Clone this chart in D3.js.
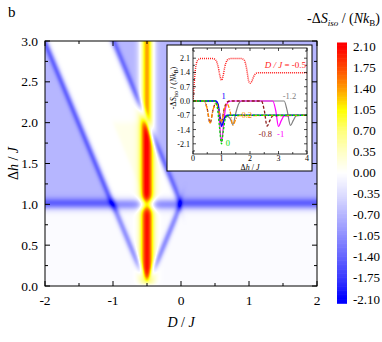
<!DOCTYPE html>
<html><head><meta charset="utf-8">
<script src="https://cdn.jsdelivr.net/npm/d3@7"></script>
<style>
body{margin:0;background:#fff}
svg{display:block}
text{font-family:"Liberation Serif","Times New Roman",serif;fill:#000}
</style>
</head><body>
<svg id="c" width="382" height="342"></svg>
<script>
// ---------------- data ----------------
const xTicks = [-2, -1, 0, 1, 2];
const yTicks = [0, 0.5, 1, 1.5, 2, 2.5, 3];
const yTickLabels = ["0.0","0.5","1.0","1.5","2.0","2.5","3.0"];
const cbValues = [2.10, 1.75, 1.40, 1.05, 0.70, 0.35, 0.00, -0.35, -0.70, -1.05, -1.40, -1.75, -2.10];
const cbLabels = ["2.10","1.75","1.40","1.05","0.70","0.35","0.00","-0.35","-0.70","-1.05","-1.40","-1.75","-2.10"];
const cbColors = ["#ff0000","#ff4800","#ff9c00","#ffff00","#ffff7a","#ffffc4","#ffffff","#dedeff","#b6b6ff","#8e8eff","#6464ff","#3a3aff","#0000ff"];

// heat-map structure (D/J, Δh/J)
const ridgeH   = [0, 0.04, 0.08, 0.12, 0.16, 0.22, 3.0];
const ridgeAmp = [0, 0.9, 1.5, 1.85, 2.0, 2.08, 2.08];
const ridgeD = -0.5, ridgeSigma = 0.07;
const zoneValues = [-0.04, -0.70, -0.70, 0.13];
const zonePolys = [
  [[-3,-1],[3,-1],[3,1],[-3,1]],
  [[-3,1],[-1,1],[-3,5]],
  [[0,1],[3,1],[3,5],[-2,5]],
  [[-1,2],[-0.5,1],[-0.5,2]]
];
const lineStart = [[-0.5,0],[-0.5,0],[0,1],[-3,1]];
const lineEnd   = [[-2.5,4],[0,1],[-1.5,4],[3,1]];
const lineDepth = [-0.95, -1.0, -0.87, -1.0];
const lineSigma = [0.075, 0.075, 0.075, 0.05];

// inset curves [Δh/J, -ΔS/(NkB)]
const insetXTicks = [0,1,2,3,4];
const insetYTicks = [-2.1,-1.4,-0.7,0,0.7,1.4,2.1];
const insetYLabels = ["-2.1","-1.4","-0.7","0.0","0.7","1.4","2.1"];
const cM12 = [[0,0],[0.8,0],[0.9,-0.45],[1.0,-1.15],[1.1,-0.85],[1.2,-0.75],[1.3,-0.85],[1.4,-1.15],[1.5,-0.6],[1.6,-0.15],[1.7,0],[3.2,0],[3.3,-0.45],[3.42,-1.2],[3.52,-0.95],[3.62,-0.73],[4,-0.7]];
const cM1  = [[0,0],[0.8,0],[0.9,-0.5],[1.0,-2.0],[1.08,-1.0],[1.15,-0.3],[1.25,-0.03],[1.35,0],[2.8,0],[2.9,-0.45],[3.0,-1.25],[3.1,-0.95],[3.2,-0.73],[4,-0.7]];
const cM08 = [[0,0],[0.4,0],[0.5,-0.4],[0.6,-1.08],[0.7,-0.45],[0.8,-0.1],[0.9,-0.4],[1.0,-1.0],[1.1,-0.35],[1.2,-0.05],[1.3,0],[2.4,0],[2.5,-0.45],[2.6,-1.23],[2.7,-0.95],[2.8,-0.73],[4,-0.7]];
const cM02 = [[0,0],[0.4,0],[0.5,-0.4],[0.6,-1.08],[0.7,-0.45],[0.8,-0.1],[0.9,-0.4],[1.0,-1.05],[1.1,-0.4],[1.2,-0.15],[1.3,-0.5],[1.4,-1.2],[1.5,-0.9],[1.6,-0.72],[4,-0.7]];
const c1   = [[0,0],[0.8,0],[0.88,-0.15],[0.94,-0.7],[1.0,-1.25],[1.06,-1.05],[1.12,-0.8],[1.2,-0.7],[4,-0.7]];
const c0   = [[0,0],[0.75,0],[0.85,-0.3],[0.93,-1.3],[1.0,-2.1],[1.07,-1.4],[1.15,-0.8],[1.25,-0.7],[4,-0.7]];
const cM05 = [[0,0],[0.04,0.8],[0.08,1.5],[0.12,1.85],[0.18,2.02],[0.25,2.08],[0.7,2.08],[0.8,2.0],[0.88,1.7],[0.95,1.2],[1.0,1.02],[1.05,1.2],[1.12,1.7],[1.2,2.0],[1.3,2.08],[1.7,2.08],[1.8,2.0],[1.88,1.6],[1.95,1.0],[2.0,0.87],[2.06,0.95],[2.13,1.2],[2.22,1.36],[2.35,1.39],[4,1.39]];
const insetSeries = [
  {data:cM12, color:"#808080", dash:null, w:1.2},
  {data:cM1,  color:"#ff00ff", dash:null, w:1.2},
  {data:cM08, color:"#8b1a1a", dash:"3,2", w:1.3},
  {data:c1,   color:"#0000ff", dash:null, w:1.3},
  {data:cM02, color:"#ff8c00", dash:"4,1.5,1,1.5", w:1.3},
  {data:c0,   color:"#00dd00", dash:"2.5,1.5", w:1.3},
  {data:cM05, color:"#ff2020", dash:"1,1", w:1.5}
];
const insetLabels = [
  {t:"1", x:1.0, v:0.12, c:"#0000ff"},
  {t:"0", x:1.15, v:-2.2, c:"#00dd00"},
  {t:"-0.2", x:1.6, v:-0.85, c:"#ff8c00"},
  {t:"-0.8", x:2.3, v:-1.75, c:"#8b1a1a"},
  {t:"-1", x:2.95, v:-1.75, c:"#ff00ff"},
  {t:"-1.2", x:3.15, v:0.1, c:"#808080"}
];

// ---------------- layout ----------------
const svg = d3.select("#c");
const P = {l:45, r:317, t:41, b:286};
const x = d3.scaleLinear().domain([-2,2]).range([P.l,P.r]);
const y = d3.scaleLinear().domain([0,3]).range([P.b,P.t]);
const color = d3.scaleLinear().domain(cbValues).range(cbColors).clamp(true);
const ridgeScale = d3.scaleLinear().domain(ridgeH).range(ridgeAmp).clamp(true);

const sig = v => 1/(1+Math.exp(-v));
const zoneBlur = 0.022;
function zoneMember(poly, D, h){
  let m = 1;
  for(let k=0;k<poly.length;k++){
    const [d1,h1]=poly[k], [d2,h2]=poly[(k+1)%poly.length];
    const ax=2*(d2-d1), ay=h2-h1, px=2*(D-d1), py=h-h1;
    const dist=(ax*py-ay*px)/Math.hypot(ax,ay);
    m *= sig(dist/zoneBlur);
  }
  return m;
}
function field(D,h){
  let v=0;
  zonePolys.forEach((p,i)=>{ v += zoneValues[i]*zoneMember(p,D,h); });
  const fade = 1-Math.exp(-Math.max(h,0)/0.12);
  for(let k=0;k<lineStart.length;k++){
    const [d1,h1]=lineStart[k],[d2,h2]=lineEnd[k];
    const t=(D-d1)/(d2-d1), hl=h1+t*(h2-h1), dv=h-hl;
    const L=Math.abs(d2-d1);
    const ew=sig(t*L/0.02)*sig((1-t)*L/0.02);
    const s=lineSigma[k];
    v += lineDepth[k]*Math.exp(-dv*dv/(2*s*s))*ew*(k===3?1:fade);
  }
  const dd=(D-ridgeD)/ridgeSigma;
  v += ridgeScale(h)*Math.exp(-dd*dd/2);
  return v;
}

// heat map raster
const W=P.r-P.l, H=P.b-P.t;
const cv=document.createElement("canvas"); cv.width=W; cv.height=H;
const ctx=cv.getContext("2d"); const img=ctx.createImageData(W,H);
for(let j=0;j<H;j++){
  const h=y.invert(P.t+j+0.5);
  for(let i=0;i<W;i++){
    const D=x.invert(P.l+i+0.5);
    const c=d3.rgb(color(field(D,h)));
    const o=4*(j*W+i);
    img.data[o]=c.r; img.data[o+1]=c.g; img.data[o+2]=c.b; img.data[o+3]=255;
  }
}
ctx.putImageData(img,0,0);
svg.append("image").attr("x",P.l).attr("y",P.t).attr("width",W).attr("height",H)
  .attr("preserveAspectRatio","none").attr("href",cv.toDataURL());

// main frame & ticks
const g=svg.append("g");
g.append("rect").attr("x",P.l).attr("y",P.t).attr("width",W).attr("height",H)
  .attr("fill","none").attr("stroke","#000").attr("stroke-width",1);
const xMinor=d3.range(-2,2.001,0.5), yMinor=d3.range(0,3.001,0.25);
xMinor.forEach(v=>{
  const L = Math.abs(v-Math.round(v))<1e-6 ? 5 : 3;
  g.append("line").attr("x1",x(v)).attr("x2",x(v)).attr("y1",P.b).attr("y2",P.b-L).attr("stroke","#000");
  g.append("line").attr("x1",x(v)).attr("x2",x(v)).attr("y1",P.t).attr("y2",P.t+L).attr("stroke","#000");
});
yMinor.forEach(v=>{
  const L = Math.abs(v*2-Math.round(v*2))<1e-6 ? 5 : 3;
  g.append("line").attr("y1",y(v)).attr("y2",y(v)).attr("x1",P.l).attr("x2",P.l+L).attr("stroke","#000");
  g.append("line").attr("y1",y(v)).attr("y2",y(v)).attr("x1",P.r).attr("x2",P.r-L).attr("stroke","#000");
});
xTicks.forEach(v=>g.append("text").attr("x",x(v)).attr("y",305).attr("text-anchor","middle")
  .attr("font-size",13.5).text(v));
yTicks.forEach((v,i)=>g.append("text").attr("x",38).attr("y",y(v)+4.5).attr("text-anchor","end")
  .attr("font-size",13.5).text(yTickLabels[i]));
const xt=g.append("text").attr("x",x(0)).attr("y",327).attr("text-anchor","middle").attr("font-size",14);
xt.append("tspan").attr("font-style","italic").text("D");
xt.append("tspan").text(" / ");
xt.append("tspan").attr("font-style","italic").text("J");
const yt=g.append("text").attr("transform",`translate(18,${(P.t+P.b)/2}) rotate(-90)`).attr("text-anchor","middle").attr("font-size",14);
yt.append("tspan").text("Δ");
yt.append("tspan").attr("font-style","italic").text("h");
yt.append("tspan").text(" / ");
yt.append("tspan").attr("font-style","italic").text("J");
g.append("text").attr("x",8).attr("y",17).attr("font-size",15).text("b");

// colorbar
const cy=d3.scaleLinear().domain([2.1,-2.1]).range([46.7,299]);
const nSteps=200;
for(let k=0;k<nSteps;k++){
  const v0=2.17-4.34*k/nSteps, v1=2.17-4.34*(k+1)/nSteps;
  svg.append("rect").attr("x",337).attr("width",10).attr("y",cy(v0)).attr("height",cy(v1)-cy(v0)+0.6)
    .attr("fill",color((v0+v1)/2));
}
cbValues.forEach((v,i)=>svg.append("text").attr("x",353).attr("y",cy(v)+4.5).attr("font-size",13).text(cbLabels[i]));
const ct=svg.append("text").attr("x",380).attr("y",23).attr("text-anchor","end").attr("font-size",14);
ct.append("tspan").text("-Δ");
ct.append("tspan").attr("font-style","italic").text("S");
ct.append("tspan").attr("font-style","italic").attr("font-size",9).attr("dy",3).text("iso");
ct.append("tspan").attr("dy",-3).text(" / (");
ct.append("tspan").attr("font-style","italic").text("Nk");
ct.append("tspan").attr("font-size",9).attr("dy",3).text("B");
ct.append("tspan").attr("dy",-3).text(")");

// ---------------- inset ----------------
const I={l:193,r:307,t:48,b:154};
const ix=d3.scaleLinear().domain([0,4]).range([I.l,I.r]);
const iy=d3.scaleLinear().domain([-2.6,2.6]).range([I.b,I.t]);
svg.append("rect").attr("x",167).attr("y",45).attr("width",145).attr("height",126)
  .attr("fill","#fff").attr("stroke","#000").attr("stroke-width",1);
const ig=svg.append("g");
ig.append("clipPath").attr("id","ic").append("rect").attr("x",I.l).attr("y",I.t).attr("width",I.r-I.l).attr("height",I.b-I.t);
const line=d3.line().x(d=>ix(d[0])).y(d=>iy(d[1])).curve(d3.curveMonotoneX);
const cg=ig.append("g").attr("clip-path","url(#ic)");
insetSeries.forEach(s=>{
  cg.append("path").attr("d",line(s.data)).attr("fill","none").attr("stroke",s.color)
    .attr("stroke-width",s.w).attr("stroke-dasharray",s.dash);
});
ig.append("rect").attr("x",I.l).attr("y",I.t).attr("width",I.r-I.l).attr("height",I.b-I.t)
  .attr("fill","none").attr("stroke","#000").attr("stroke-width",0.8);
d3.range(0,4.001,0.5).forEach(v=>{
  const L=Math.abs(v-Math.round(v))<1e-6?3:2;
  ig.append("line").attr("x1",ix(v)).attr("x2",ix(v)).attr("y1",I.b).attr("y2",I.b-L).attr("stroke","#000").attr("stroke-width",0.7);
  ig.append("line").attr("x1",ix(v)).attr("x2",ix(v)).attr("y1",I.t).attr("y2",I.t+L).attr("stroke","#000").attr("stroke-width",0.7);
});
d3.range(-2.45,2.46,0.35).forEach(v=>{
  const L=Math.abs(v/0.7-Math.round(v/0.7))<1e-3?3:2;
  ig.append("line").attr("y1",iy(v)).attr("y2",iy(v)).attr("x1",I.l).attr("x2",I.l+L).attr("stroke","#000").attr("stroke-width",0.7);
  ig.append("line").attr("y1",iy(v)).attr("y2",iy(v)).attr("x1",I.r).attr("x2",I.r-L).attr("stroke","#000").attr("stroke-width",0.7);
});
insetXTicks.forEach(v=>ig.append("text").attr("x",ix(v)).attr("y",160.5).attr("text-anchor","middle").attr("font-size",8).text(v));
insetYTicks.forEach((v,i)=>ig.append("text").attr("x",190).attr("y",iy(v)+3).attr("text-anchor","end").attr("font-size",8).text(insetYLabels[i]));
const ixt=ig.append("text").attr("x",(I.l+I.r)/2).attr("y",169.5).attr("text-anchor","middle").attr("font-size",8);
ixt.append("tspan").text("Δ");
ixt.append("tspan").attr("font-style","italic").text("h");
ixt.append("tspan").text(" / ");
ixt.append("tspan").attr("font-style","italic").text("J");
const iyt=ig.append("text").attr("transform",`translate(176,88) rotate(-90)`).attr("text-anchor","middle").attr("font-size",8);
iyt.append("tspan").text("-Δ");
iyt.append("tspan").attr("font-style","italic").text("S");
iyt.append("tspan").attr("font-style","italic").attr("font-size",5.5).attr("dy",2).text("iso");
iyt.append("tspan").attr("dy",-2).text(" / (");
iyt.append("tspan").attr("font-style","italic").text("Nk");
iyt.append("tspan").attr("font-size",5.5).attr("dy",2).text("B");
iyt.append("tspan").attr("dy",-2).text(")");
const rl=ig.append("text").attr("x",306).attr("y",iy(1.6)).attr("text-anchor","end").attr("font-size",9).attr("fill","#ff2020");
rl.append("tspan").attr("font-style","italic").attr("fill","#ff2020").text("D / J");
rl.append("tspan").attr("fill","#ff2020").text(" = -0.5");
insetLabels.forEach(l=>ig.append("text").attr("x",ix(l.x)).attr("y",iy(l.v)).attr("font-size",8.5)
  .style("fill",l.c).text(l.t));
</script>
</body></html>
